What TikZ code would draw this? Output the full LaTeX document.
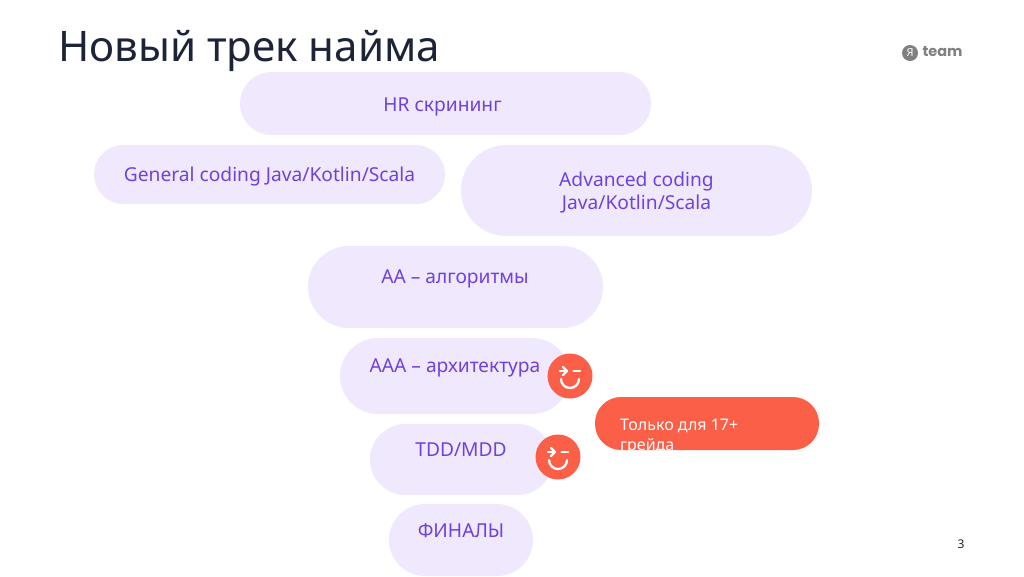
\documentclass[tikz,border=0pt]{standalone}
\usepackage{fontspec}
\setmainfont{Noto Sans}
\newfontfamily\logofont{Poppins}
\definecolor{pillbg}{HTML}{F0E9FD}
\definecolor{pilltx}{HTML}{6F42DC}
\definecolor{coral}{HTML}{FB5F48}
\definecolor{titlec}{HTML}{1E2438}
\definecolor{logoc}{HTML}{808080}
\tikzset{
  x=1pt,y=-1pt,
  lbl/.style={text=pilltx,font=\fontsize{19.2}{23}\selectfont,inner sep=0pt,align=center},
  badge/.style={circle,fill=coral,minimum size=45pt,inner sep=0pt},
  face/.style={draw=white,line width=2.3pt,line cap=round}
}
\newcommand{\winkface}[1]{%
  \begin{scope}[shift={(#1)}]
    \draw[face] (-9,3) arc[start angle=180,end angle=360,radius=9,y radius=-9];
    \draw[face] (3.5,-5) -- (10,-5);
    \draw[face] (-10,-5) -- (-3,-5);
    \draw[face,line join=round] (-7,-9) -- (-3,-5) -- (-7,-1);
  \end{scope}}
\begin{document}
\begin{tikzpicture}
\useasboundingbox (0,0) rectangle (1024,576);
\fill[white] (0,0) rectangle (1024,576);
\node[anchor=west,text=titlec,font=\fontsize{42.1}{48}\selectfont,inner sep=0pt] (title) at (58,51) {Новый трек найма};
% pills
\foreach \xa/\ya/\xb/\yb in {240/72/651/135, 94/145/445/204, 461/145/812/236, 308/246/603/328, 340/338/570/414, 370/424/553/495, 389/504/533/576}{
  \pgfmathsetmacro{\r}{(\yb-\ya)/2}
  \fill[pillbg,rounded corners=\r pt] (\xa,\ya) rectangle (\xb,\yb);
}
\node[lbl] (hr) at (442.5,107) {HR скрининг};
\node[lbl] (gc) at (269.5,177) {General coding Java/Kotlin/Scala};
\node[lbl] (ac) at (636.5,193) {Advanced coding\\Java/Kotlin/Scala};
\node[lbl] (aa) at (455,279) {АА – алгоритмы};
\node[lbl] (aaa) at (455,368) {ААА – архитектура};
\node[lbl] (tdd) at (461,450) {TDD/MDD};
\node[lbl] (fin) at (461,530.5) {ФИНАЛЫ};
% badges
\node[badge] (b1) at (570,376) {};
\node[badge] (b2) at (558,457) {};
\winkface{570,376}
\winkface{558,457}
% orange pill
\fill[coral,rounded corners=26pt] (595,397) rectangle (819,450);
\begin{scope}
  \clip (595,397) rectangle (819,450);
  \node[anchor=north west,text=white,align=left,inner sep=0pt,font=\fontsize{16}{20}\selectfont] (only) at (620,419) {Только для 17+\\грейда};
\end{scope}
% page number
\node[text=titlec,font=\fontsize{12}{14}\selectfont,inner sep=0pt] (pg) at (961,544) {3};
% logo
\fill[logoc] (910,53) circle (8);
\node[text=white,font=\bfseries\fontsize{11}{11}\selectfont,inner sep=0pt] (ya) at (910,53) {Я};
\node[text=logoc,font=\logofont\bfseries\fontsize{14.5}{15}\selectfont,inner sep=0pt] (team) at (942.5,52) {team};
\end{tikzpicture}
\end{document}
